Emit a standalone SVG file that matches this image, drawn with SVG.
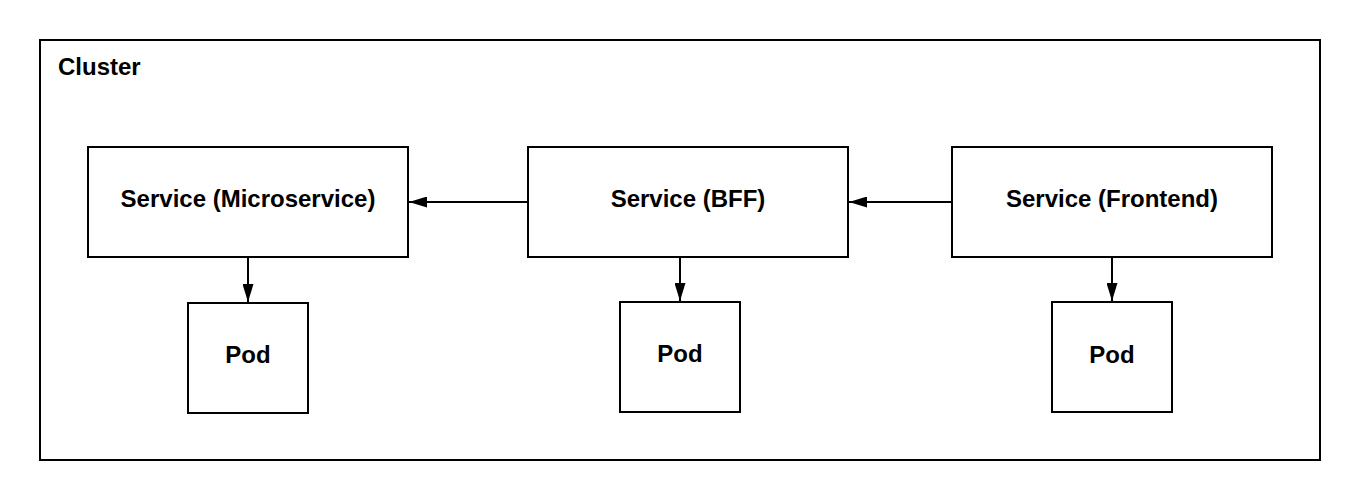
<svg xmlns="http://www.w3.org/2000/svg" width="1360" height="500" viewBox="0 0 1360 500">
<style>
.box{fill:#fff;stroke:#000;stroke-width:2}
.lbl{font-family:"Liberation Sans",Arial,sans-serif;font-weight:bold;font-size:24px;fill:#000}
.c{text-anchor:middle;dominant-baseline:central}
.edge{stroke:#000;stroke-width:2;fill:none;marker-end:url(#ah)}
</style>
<defs>
<marker id="ah" markerWidth="18" markerHeight="11" refX="18" refY="5.5" orient="auto" markerUnits="userSpaceOnUse" viewBox="0 0 18 11">
<path d="M0,0 L18,5.5 L0,11 Z" fill="#000"/>
</marker>
</defs>
<rect width="1360" height="500" fill="#fff"/>
<g id="cluster">
<rect class="box" x="40" y="40" width="1280" height="420"/>
<text class="lbl" x="58" y="75">Cluster</text>
</g>
<g id="svc-micro">
<rect class="box" x="88" y="147" width="320" height="110"/>
<text class="lbl c" x="248" y="198">Service (Microservice)</text>
</g>
<g id="svc-bff">
<rect class="box" x="528" y="147" width="320" height="110"/>
<text class="lbl c" x="688" y="198">Service (BFF)</text>
</g>
<g id="svc-frontend">
<rect class="box" x="952" y="147" width="320" height="110"/>
<text class="lbl c" x="1112" y="198">Service (Frontend)</text>
</g>
<g id="pod-micro">
<rect class="box" x="188" y="303" width="120" height="110"/>
<text class="lbl c" x="248" y="354">Pod</text>
</g>
<g id="pod-bff">
<rect class="box" x="620" y="302" width="120" height="110"/>
<text class="lbl c" x="680" y="353">Pod</text>
</g>
<g id="pod-frontend">
<rect class="box" x="1052" y="302" width="120" height="110"/>
<text class="lbl c" x="1112" y="354">Pod</text>
</g>
<g id="connectors">
<path class="edge" d="M528,202 H409"/>
<path class="edge" d="M952,202 H849"/>
<path class="edge" d="M248,257 V302"/>
<path class="edge" d="M680,257 V301"/>
<path class="edge" d="M1112,257 V301"/>
</g>
</svg>
